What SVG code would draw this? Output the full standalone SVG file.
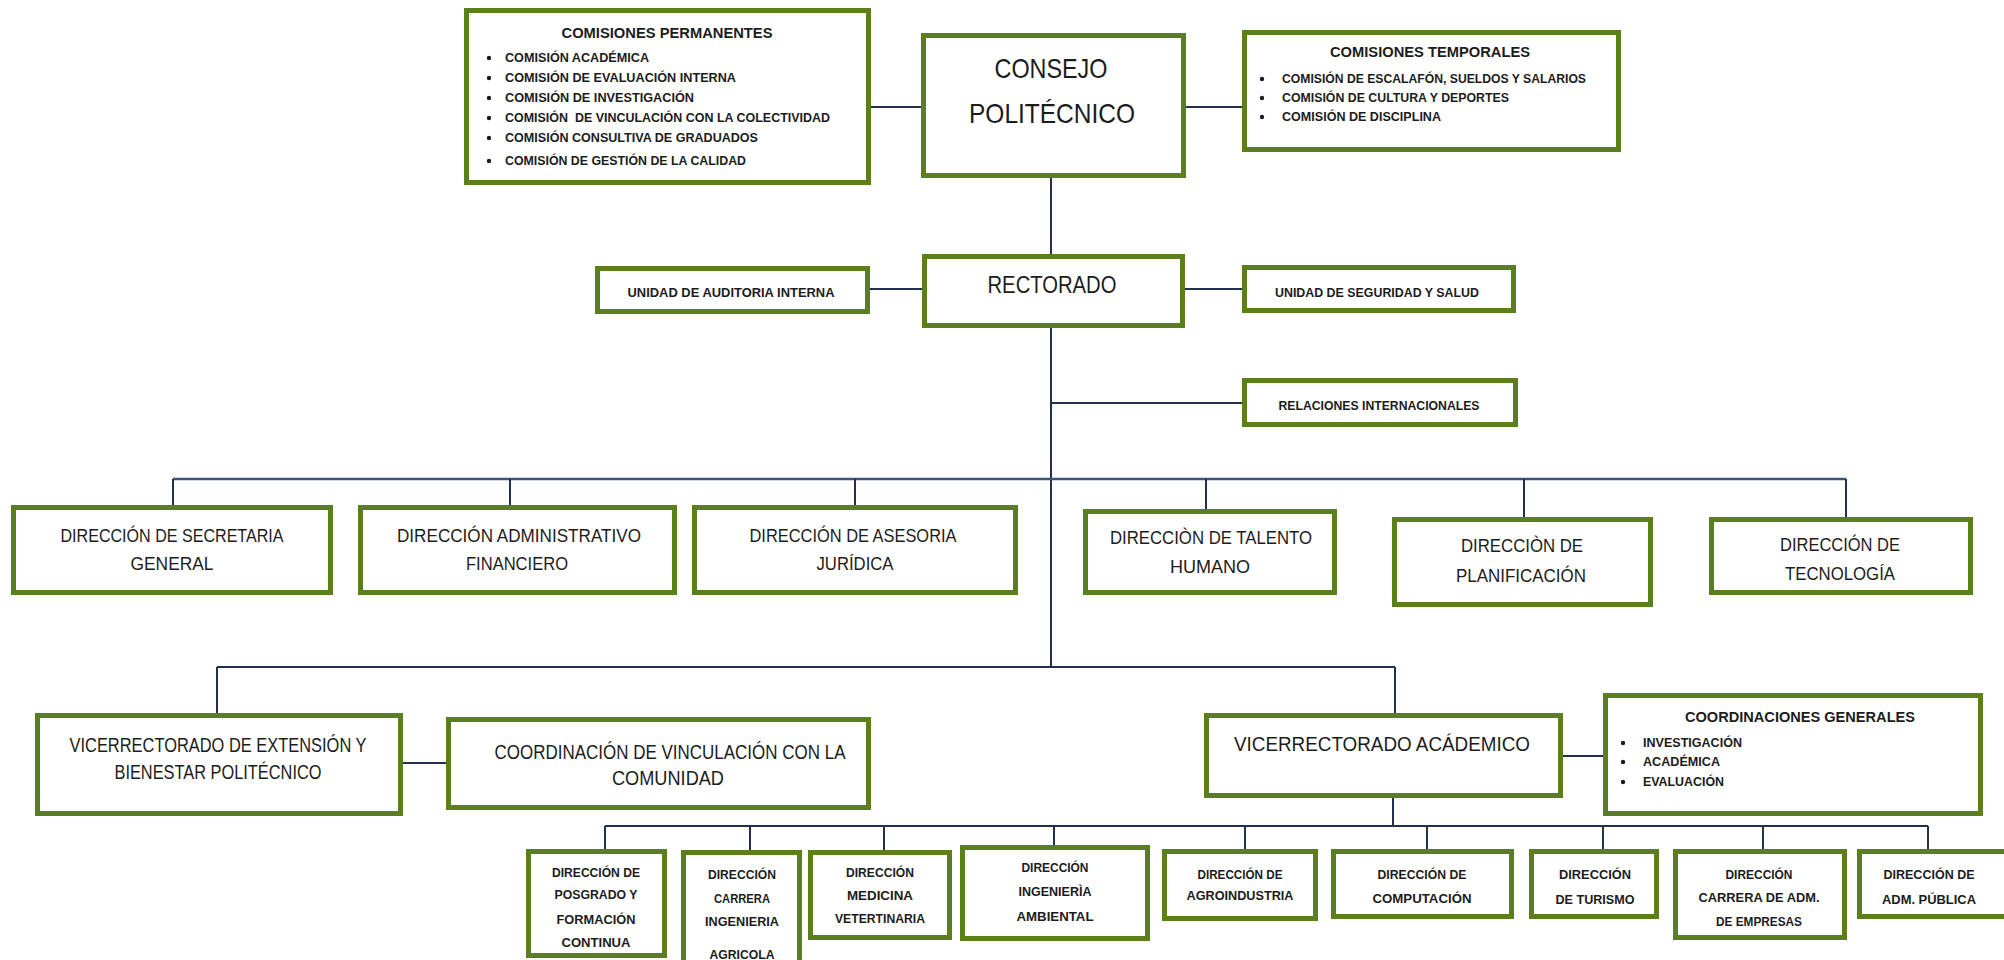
<svg xmlns="http://www.w3.org/2000/svg" width="2004" height="960" viewBox="0 0 2004 960">
<style>
.box{fill:#fff;stroke:#5a7f1c;stroke-width:5}
.ln{stroke:#22304d;stroke-width:2;fill:none}
.bus{stroke:#3e5575;stroke-width:2.5;fill:none}
text{font-family:"Liberation Sans",Arial,sans-serif;fill:#1c1c1c}
.c{text-anchor:middle}
.s{text-anchor:start}
.b{font-weight:bold}
.xl{font-size:28px}
.lg{font-size:23px}
.md{font-size:20px}
.dr{font-size:18px}
.un{font-size:13px;font-weight:bold}
.ti{font-size:14px;font-weight:bold}
.it{font-size:12px;font-weight:bold}
.sm{font-size:12px;font-weight:bold}
.dot{fill:#1c1c1c}
</style>
<rect width="2004" height="960" fill="#fff"/>
<g id="connectors">
<path class="ln" d="M871 107H921M1186 107H1242M1051 178V254M870 289H922M1185 289H1242M1051 328V667M1051 403H1242"/>
<path class="bus" d="M173 479H1846"/>
<path class="ln" d="M173 479V505M510 479V505M855 479V505M1206 479V509M1524 479V517M1846 479V517"/>
<path class="ln" d="M217 667H1395M217 667V713M1395 667V713M403 763H446M1563 756H1603M1393 798V826"/>
<path class="ln" d="M605 826H1928M605 826V849M750 826V850M884 826V850M1054 826V845M1245 826V849M1427 826V849M1603 826V849M1763 826V849M1928 826V849"/>
</g>
<g id="comisiones-permanentes">
<rect class="box" x="466.5" y="10.5" width="402" height="172"/>
<text class="c ti" x="667" y="38" textLength="211" lengthAdjust="spacingAndGlyphs">COMISIONES PERMANENTES</text>
<circle class="dot" cx="489" cy="58" r="2.2"/><circle class="dot" cx="489" cy="78" r="2.2"/><circle class="dot" cx="489" cy="98" r="2.2"/><circle class="dot" cx="489" cy="118" r="2.2"/><circle class="dot" cx="489" cy="138" r="2.2"/><circle class="dot" cx="489" cy="161" r="2.2"/>
<text class="s it" x="505" y="62" textLength="144" lengthAdjust="spacingAndGlyphs">COMISIÓN ACADÉMICA</text>
<text class="s it" x="505" y="82" textLength="231" lengthAdjust="spacingAndGlyphs">COMISIÓN DE EVALUACIÓN INTERNA</text>
<text class="s it" x="505" y="102" textLength="189" lengthAdjust="spacingAndGlyphs">COMISIÓN DE INVESTIGACIÓN</text>
<text class="s it" x="505" y="122" textLength="325" lengthAdjust="spacingAndGlyphs" xml:space="preserve">COMISIÓN  DE VINCULACIÓN CON LA COLECTIVIDAD</text>
<text class="s it" x="505" y="142" textLength="253" lengthAdjust="spacingAndGlyphs">COMISIÓN CONSULTIVA DE GRADUADOS</text>
<text class="s it" x="505" y="165" textLength="241" lengthAdjust="spacingAndGlyphs">COMISIÓN DE GESTIÓN DE LA CALIDAD</text>
</g>
<g id="consejo">
<rect class="box" x="923.5" y="35.5" width="260" height="140"/>
<text class="c xl" x="1051" y="78" textLength="113" lengthAdjust="spacingAndGlyphs">CONSEJO</text>
<text class="c xl" x="1052" y="123" textLength="166" lengthAdjust="spacingAndGlyphs">POLITÉCNICO</text>
</g>
<g id="comisiones-temporales">
<rect class="box" x="1244.5" y="32.5" width="374" height="117"/>
<text class="c ti" x="1430" y="57" textLength="200" lengthAdjust="spacingAndGlyphs">COMISIONES TEMPORALES</text>
<circle class="dot" cx="1262" cy="79" r="2.2"/><circle class="dot" cx="1262" cy="98" r="2.2"/><circle class="dot" cx="1262" cy="117" r="2.2"/>
<text class="s it" x="1282" y="83" textLength="304" lengthAdjust="spacingAndGlyphs">COMISIÓN DE ESCALAFÓN, SUELDOS Y SALARIOS</text>
<text class="s it" x="1282" y="102" textLength="227" lengthAdjust="spacingAndGlyphs">COMISIÓN DE CULTURA Y DEPORTES</text>
<text class="s it" x="1282" y="121" textLength="159" lengthAdjust="spacingAndGlyphs">COMISIÓN DE DISCIPLINA</text>
</g>
<g id="auditoria">
<rect class="box" x="597.5" y="268.5" width="270" height="43"/>
<text class="c un" x="731" y="297" textLength="207" lengthAdjust="spacingAndGlyphs">UNIDAD DE AUDITORIA INTERNA</text>
</g>
<g id="rectorado">
<rect class="box" x="924.5" y="256.5" width="258" height="69"/>
<text class="c lg" x="1052" y="293" textLength="129" lengthAdjust="spacingAndGlyphs">RECTORADO</text>
</g>
<g id="seguridad">
<rect class="box" x="1244.5" y="267.5" width="269" height="43"/>
<text class="c un" x="1377" y="297" textLength="204" lengthAdjust="spacingAndGlyphs">UNIDAD DE SEGURIDAD Y SALUD</text>
</g>
<g id="relaciones">
<rect class="box" x="1244.5" y="380.5" width="271" height="44"/>
<text class="c un" x="1379" y="410" textLength="201" lengthAdjust="spacingAndGlyphs">RELACIONES INTERNACIONALES</text>
</g>
<g id="dir-secretaria">
<rect class="box" x="13.5" y="507.5" width="317" height="85"/>
<text class="c dr" x="172" y="542" textLength="223" lengthAdjust="spacingAndGlyphs">DIRECCIÓN DE SECRETARIA</text>
<text class="c dr" x="172" y="570" textLength="83" lengthAdjust="spacingAndGlyphs">GENERAL</text>
</g>
<g id="dir-administrativo">
<rect class="box" x="360.5" y="507.5" width="314" height="85"/>
<text class="c dr" x="519" y="542" textLength="244" lengthAdjust="spacingAndGlyphs">DIRECCIÓN ADMINISTRATIVO</text>
<text class="c dr" x="517" y="570" textLength="102" lengthAdjust="spacingAndGlyphs">FINANCIERO</text>
</g>
<g id="dir-asesoria">
<rect class="box" x="694.5" y="507.5" width="321" height="85"/>
<text class="c dr" x="853" y="542" textLength="207" lengthAdjust="spacingAndGlyphs">DIRECCIÓN DE ASESORIA</text>
<text class="c dr" x="855" y="570" textLength="77" lengthAdjust="spacingAndGlyphs">JURÍDICA</text>
</g>
<g id="dir-talento">
<rect class="box" x="1085.5" y="511.5" width="249" height="81"/>
<text class="c dr" x="1211" y="544" textLength="202" lengthAdjust="spacingAndGlyphs">DIRECCIÒN DE TALENTO</text>
<text class="c dr" x="1210" y="573" textLength="80" lengthAdjust="spacingAndGlyphs">HUMANO</text>
</g>
<g id="dir-planificacion">
<rect class="box" x="1394.5" y="519.5" width="256" height="85"/>
<text class="c dr" x="1522" y="552" textLength="122" lengthAdjust="spacingAndGlyphs">DIRECCIÒN DE</text>
<text class="c dr" x="1521" y="582" textLength="130" lengthAdjust="spacingAndGlyphs">PLANIFICACIÓN</text>
</g>
<g id="dir-tecnologia">
<rect class="box" x="1711.5" y="519.5" width="259" height="73"/>
<text class="c dr" x="1840" y="551" textLength="120" lengthAdjust="spacingAndGlyphs">DIRECCIÓN DE</text>
<text class="c dr" x="1840" y="580" textLength="110" lengthAdjust="spacingAndGlyphs">TECNOLOGÍA</text>
</g>
<g id="vice-extension">
<rect class="box" x="37.5" y="715.5" width="363" height="98"/>
<text class="c md" x="218" y="752" textLength="297" lengthAdjust="spacingAndGlyphs">VICERRECTORADO DE EXTENSIÓN Y</text>
<text class="c md" x="218" y="779" textLength="207" lengthAdjust="spacingAndGlyphs">BIENESTAR POLITÉCNICO</text>
</g>
<g id="coord-vinculacion">
<rect class="box" x="448.5" y="719.5" width="420" height="88"/>
<text class="c md" x="670" y="759" textLength="351" lengthAdjust="spacingAndGlyphs">COORDINACIÓN DE VINCULACIÓN CON LA</text>
<text class="c md" x="668" y="785" textLength="112" lengthAdjust="spacingAndGlyphs">COMUNIDAD</text>
</g>
<g id="vice-academico">
<rect class="box" x="1206.5" y="715.5" width="354" height="80"/>
<text class="c md" x="1382" y="751" textLength="296" lengthAdjust="spacingAndGlyphs">VICERRECTORADO ACÁDEMICO</text>
</g>
<g id="coord-generales">
<rect class="box" x="1605.5" y="695.5" width="375" height="118"/>
<text class="c ti" x="1800" y="722" textLength="230" lengthAdjust="spacingAndGlyphs">COORDINACIONES GENERALES</text>
<circle class="dot" cx="1623" cy="743" r="2.2"/><circle class="dot" cx="1623" cy="762" r="2.2"/><circle class="dot" cx="1623" cy="782" r="2.2"/>
<text class="s it" x="1643" y="747" textLength="99" lengthAdjust="spacingAndGlyphs">INVESTIGACIÓN</text>
<text class="s it" x="1643" y="766" textLength="77" lengthAdjust="spacingAndGlyphs">ACADÉMICA</text>
<text class="s it" x="1643" y="786" textLength="81" lengthAdjust="spacingAndGlyphs">EVALUACIÓN</text>
</g>
<g id="dir-posgrado">
<rect class="box" x="528.5" y="851.5" width="136" height="104"/>
<text class="c sm" x="596" y="877" textLength="88" lengthAdjust="spacingAndGlyphs">DIRECCIÓN DE</text>
<text class="c sm" x="596" y="899" textLength="83" lengthAdjust="spacingAndGlyphs">POSGRADO Y</text>
<text class="c sm" x="596" y="924" textLength="79" lengthAdjust="spacingAndGlyphs">FORMACIÓN</text>
<text class="c sm" x="596" y="947" textLength="69" lengthAdjust="spacingAndGlyphs">CONTINUA</text>
</g>
<g id="dir-agricola">
<rect class="box" x="683.5" y="852.5" width="116" height="120"/>
<text class="c sm" x="742" y="879" textLength="68" lengthAdjust="spacingAndGlyphs">DIRECCIÓN</text>
<text class="c sm" x="742" y="903" textLength="56" lengthAdjust="spacingAndGlyphs">CARRERA</text>
<text class="c sm" x="742" y="926" textLength="74" lengthAdjust="spacingAndGlyphs">INGENIERIA</text>
<text class="c sm" x="742" y="959" textLength="65" lengthAdjust="spacingAndGlyphs">AGRICOLA</text>
</g>
<g id="dir-veterinaria">
<rect class="box" x="810.5" y="852.5" width="139" height="85"/>
<text class="c sm" x="880" y="877" textLength="68" lengthAdjust="spacingAndGlyphs">DIRECCIÓN</text>
<text class="c sm" x="880" y="900" textLength="66" lengthAdjust="spacingAndGlyphs">MEDICINA</text>
<text class="c sm" x="880" y="923" textLength="90" lengthAdjust="spacingAndGlyphs">VETERTINARIA</text>
</g>
<g id="dir-ambiental">
<rect class="box" x="962.5" y="847.5" width="185" height="91"/>
<text class="c sm" x="1055" y="872" textLength="67" lengthAdjust="spacingAndGlyphs">DIRECCIÓN</text>
<text class="c sm" x="1055" y="896" textLength="73" lengthAdjust="spacingAndGlyphs">INGENIERÌA</text>
<text class="c sm" x="1055" y="921" textLength="77" lengthAdjust="spacingAndGlyphs">AMBIENTAL</text>
</g>
<g id="dir-agroindustria">
<rect class="box" x="1164.5" y="851.5" width="151" height="67"/>
<text class="c sm" x="1240" y="879" textLength="85" lengthAdjust="spacingAndGlyphs">DIRECCIÓN DE</text>
<text class="c sm" x="1240" y="900" textLength="107" lengthAdjust="spacingAndGlyphs">AGROINDUSTRIA</text>
</g>
<g id="dir-computacion">
<rect class="box" x="1333.5" y="851.5" width="178" height="65"/>
<text class="c sm" x="1422" y="879" textLength="89" lengthAdjust="spacingAndGlyphs">DIRECCIÓN DE</text>
<text class="c sm" x="1422" y="903" textLength="99" lengthAdjust="spacingAndGlyphs">COMPUTACIÓN</text>
</g>
<g id="dir-turismo">
<rect class="box" x="1531.5" y="851.5" width="125" height="65"/>
<text class="c sm" x="1595" y="879" textLength="72" lengthAdjust="spacingAndGlyphs">DIRECCIÓN</text>
<text class="c sm" x="1595" y="904" textLength="79" lengthAdjust="spacingAndGlyphs">DE TURISMO</text>
</g>
<g id="dir-empresas">
<rect class="box" x="1675.5" y="851.5" width="169" height="86"/>
<text class="c sm" x="1759" y="879" textLength="67" lengthAdjust="spacingAndGlyphs">DIRECCIÓN</text>
<text class="c sm" x="1759" y="902" textLength="121" lengthAdjust="spacingAndGlyphs">CARRERA DE ADM.</text>
<text class="c sm" x="1759" y="926" textLength="86" lengthAdjust="spacingAndGlyphs">DE EMPRESAS</text>
</g>
<g id="dir-publica">
<rect class="box" x="1859.5" y="851.5" width="160" height="65"/>
<text class="c sm" x="1929" y="879" textLength="91" lengthAdjust="spacingAndGlyphs">DIRECCIÓN DE</text>
<text class="c sm" x="1929" y="904" textLength="94" lengthAdjust="spacingAndGlyphs">ADM. PÚBLICA</text>
</g>
</svg>
